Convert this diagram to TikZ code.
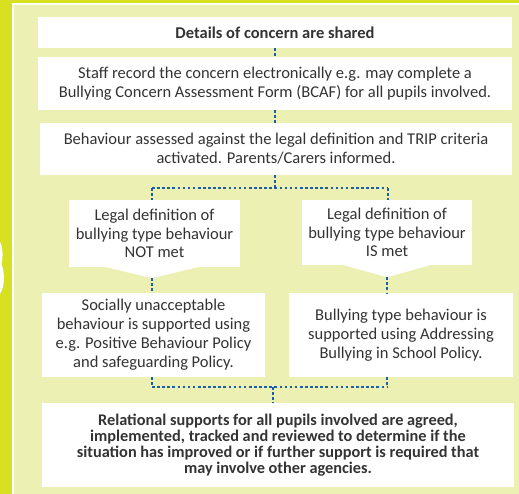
\documentclass[tikz,border=0pt]{standalone}
\usepackage{fontspec}
\setmainfont{Carlito}
\usetikzlibrary{calc}
\definecolor{outeryel}{HTML}{D8E022}
\definecolor{paleyel}{HTML}{EDF0B3}
\definecolor{dotblue}{HTML}{1B5EAB}
\definecolor{txt}{HTML}{333333}
\tikzset{
  box/.style={fill=white, draw=none, inner sep=2pt, align=center, text=txt,
    font=\fontsize{16.5}{19}\selectfont},
  dots/.style={draw=dotblue, line width=2.8pt, dash pattern=on 2.6pt off 2.5pt},
}
\begin{document}
\begin{tikzpicture}[x=1pt,y=-1pt]
\useasboundingbox (0,0) rectangle (519,494);
\fill[outeryel] (0,0) rectangle (519,494);
\fill[white] (12,3) rectangle (519,494);
\fill[paleyel] (14,5) rectangle (519,494);
% part of a large digit at left edge
\fill[white] (0,242) .. controls (2.5,246) and (3.5,255) .. (1.5,264)
  .. controls (4.5,272) and (5.5,285) .. (0,294) -- cycle;

\node[box, minimum width=474pt, minimum height=31pt, font=\fontsize{16.5}{19}\selectfont\bfseries] (b1) at (275,32.5) {Details of concern are shared};
\node[box, minimum width=474pt, minimum height=53pt] (b2) at (275,83.5)
  {Staff record the concern electronically e.g. may complete a\\Bullying Concern Assessment Form (BCAF) for all pupils involved.};
\node[box, minimum width=472pt, minimum height=52pt] (b3) at (276,149)
  {Behaviour assessed against the legal definition and TRIP criteria\\activated. Parents/Carers informed.};

\node[box, minimum width=171pt, minimum height=67pt, font=\fontsize{16.5}{18.5}\selectfont] (cA) at (154.5,233.5)
  {Legal definition of\\bullying type behaviour\\NOT met};
\fill[white] ($(cA.south)+(-50,-0.5)$) -- ($(cA.south)+(-2.5,11)$) -- ($(cA.south)+(45,-0.5)$) -- cycle;
\coordinate (tipA) at ($(cA.south)+(-2.5,11)$);
\node[box, minimum width=170pt, minimum height=65pt, font=\fontsize{16.5}{18.5}\selectfont] (cB) at (387,232.5)
  {Legal definition of\\bullying type behaviour\\IS met};
\fill[white] ($(cB.south)+(-45,-0.5)$) -- ($(cB.south)+(0,12)$) -- ($(cB.south)+(45,-0.5)$) -- cycle;
\coordinate (tipB) at ($(cB.south)+(0,12)$);

\node[box, minimum width=223pt, minimum height=84pt] (dA) at (153.5,335)
  {Socially unacceptable\\behaviour is supported using\\e.g. Positive Behaviour Policy\\and safeguarding Policy.};
\node[box, minimum width=224pt, minimum height=84pt] (dB) at (401,335)
  {Bullying type behaviour is\\supported using Addressing\\Bullying in School Policy.};

\node[box, minimum width=472pt, minimum height=84pt, font=\fontsize{16.3}{15.8}\selectfont\bfseries] (fin) at (278,445)
  {Relational supports for all pupils involved are agreed,\\implemented, tracked and reviewed to determine if the\\situation has improved or if further support is required that\\may involve other agencies.};

% connectors
\coordinate (j1) at (275,188);
\coordinate (jl) at (152,188);
\coordinate (jr) at (388,188);
\coordinate (k1) at (273,387);
\coordinate (kl) at (152,387);
\coordinate (kr) at (387,387);

\draw[dots] (b1.south -| 275,0) -- (b2.north -| 275,0);
\draw[dots] (b2.south -| 275,0) -- (b3.north -| 275,0);
\draw[dots] (b3.south -| j1) -- (j1);
\draw[dots] (jl) -- (jr);
\draw[dots] (jl) -- (cA.north -| jl);
\draw[dots] (jr) -- (cB.north -| jr);
\draw[dots] (tipA) -- (dA.north -| tipA);
\draw[dots] (tipB) -- (dB.north -| tipB);
\draw[dots] (dA.south -| kl) -- (kl);
\draw[dots] (dB.south -| kr) -- (kr);
\draw[dots] (kl) -- (kr);
\draw[dots] (k1) -- (fin.north -| k1);
\end{tikzpicture}
\end{document}
